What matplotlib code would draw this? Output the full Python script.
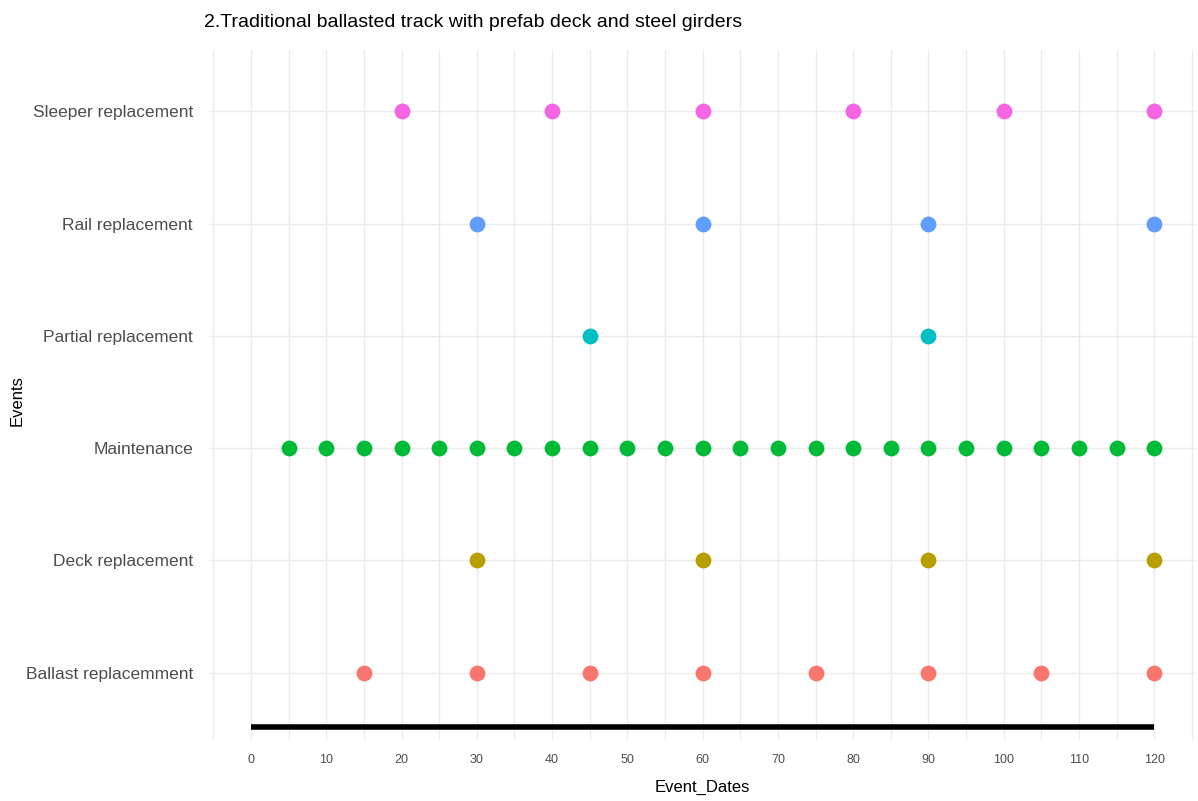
import matplotlib
matplotlib.use("Agg")
import matplotlib.pyplot as plt

# event categories (bottom to top) and their dates
events = ["Ballast replacemment", "Deck replacement", "Maintenance",
          "Partial replacement", "Rail replacement", "Sleeper replacement"]
ballast = [15, 30, 45, 60, 75, 90, 105, 120]
deck = [30, 60, 90, 120]
maintenance = [5, 10, 15, 20, 25, 30, 35, 40, 45, 50, 55, 60,
               65, 70, 75, 80, 85, 90, 95, 100, 105, 110, 115, 120]
partial = [45, 90]
rail = [30, 60, 90, 120]
sleeper = [20, 40, 60, 80, 100, 120]
colors = ["#F8766D", "#B79F00", "#00BA38", "#00BFC4", "#619CFF", "#F564E3"]
x_ticks = list(range(0, 121, 10))
timeline = [0, 120]

font = ["Liberation Sans", "DejaVu Sans"]

fig = plt.figure(figsize=(11.98, 8.01), dpi=100)
ax = fig.add_axes([0.175, 0.076, 0.823, 0.862])

series = [ballast, deck, maintenance, partial, rail, sleeper]
for i, (dates, c) in enumerate(zip(series, colors)):
    ax.scatter(dates, [i + 1] * len(dates), s=130, color=c, zorder=3, linewidths=0)

# timeline bar under the events
ax.plot(timeline, [0.52, 0.52], color="black", lw=4, solid_capstyle="butt", zorder=2)

ax.set_xlim(-5.5, 125.5)
ax.set_ylim(0.4, 6.55)
ax.set_xticks(x_ticks)
ax.set_xticks(range(-5, 126, 10), minor=True)
ax.set_yticks(range(1, 7))
ax.set_yticklabels(events, family=font, fontsize=12.5, color="#4D4D4D")
for lab in ax.get_xticklabels():
    lab.set_family(font)
    lab.set_fontsize(9)
    lab.set_color("#4D4D4D")
ax.tick_params(which="both", length=0)
ax.tick_params(axis="x", pad=10)
ax.tick_params(axis="y", pad=12)
ax.grid(which="both", color="#EBEBEB", lw=1)
ax.set_axisbelow(True)
for s in ax.spines.values():
    s.set_visible(False)

ax.set_xlabel("Event_Dates", family=font, fontsize=12, labelpad=10)
fig.text(0.014, 0.5, "Events", family=font, fontsize=12, rotation=90,
         ha="center", va="center")
fig.text(0.17, 0.972, "2.Traditional ballasted track with prefab deck and steel girders",
         family=font, fontsize=14, va="center", ha="left")

fig.savefig("out.png", dpi=100, facecolor="white")
